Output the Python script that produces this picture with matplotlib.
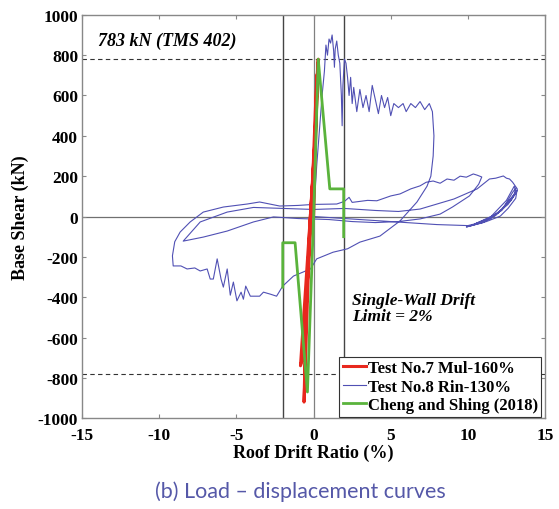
import numpy as np
import matplotlib.pyplot as plt

plt.rcParams['axes.unicode_minus'] = False

# Test No.8 Rin-130% (blue hysteresis)
rin_x = [0.0, 0.2, 0.4, 0.55, 0.7, 0.8, 0.9, 1.0, 1.1, 1.2, 1.3, 1.35, 1.4, 1.5, 1.6, 1.7,
         1.8, 1.85, 1.9, 2.0, 2.1, 2.2, 2.3, 2.4, 2.5, 2.6, 2.8, 3.0, 3.2, 3.4, 3.6, 3.8,
         4.0, 4.2, 4.4, 4.6, 4.8, 5.0, 5.2, 5.5, 5.8, 6.0, 6.3, 6.6, 6.9, 7.2, 7.5, 7.7,
         7.8, 7.75, 7.6, 7.35, 6.7, 5.6, 4.3, 3.0, 2.2, 1.26, 0.2, -0.2, -1.3, -2.0,
         -2.4, -2.8, -3.25, -3.5, -4.1, -4.4, -4.55, -4.7, -4.97, -5.2, -5.4, -5.6, -5.85,
         -6.0, -6.25, -6.5, -6.7, -6.9, -7.35, -7.7, -8.2, -8.6, -9.1,
         -9.15, -9.0, -8.65, -8.0, -7.15, -5.85, -4.3, -3.5, -2.2, -1.0, 0.0, 1.5, 2.0,
         2.3, 2.5, 3.5, 4.1, 5.0, 5.6, 6.3, 6.9, 7.3, 7.75, 8.2, 8.65, 9.1, 9.5, 9.9,
         10.35, 10.6, 10.9,
         10.7, 10.1, 9.0, 8.2, 6.9, 5.5, 4.0, 2.5, 1.0, -1.0, -2.6, -3.9, -5.6, -7.15, -8.45,
         -7.35, -5.6, -3.9, -2.0, 0.0, 2.0, 4.0, 5.5, 6.9, 9.1, 10.6, 11.4, 11.8, 12.3,
         12.5, 12.7, 12.9, 13.2, 13.1, 12.6, 12.1, 11.2, 9.9,
         11.0, 12.3, 13.0, 13.1, 12.9, 12.2, 11.0, 10.2, 11.5, 12.6, 13.15, 13.0, 12.5,
         11.5, 10.5, 11.8, 12.8, 13.2, 12.9, 12.0, 10.8, 10.0, 8.0, 6.0, 4.0, 2.0, 0.0]
rin_y = [0, 250, 450, 600, 720, 850, 800, 880, 860, 900, 820, 740, 830, 870, 800, 760,
         600, 450, 650, 780, 760, 690, 600, 690, 560, 640, 520, 630, 540, 600, 520, 650,
         580, 510, 600, 540, 590, 500, 560, 540, 560, 520, 560, 540, 570, 530, 560, 520,
         400, 300, 200, 150, 72, -22, -97, -127, -160, -177, -210, -260, -295, -345,
         -395, -385, -375, -395, -395, -345, -410, -375, -418, -325, -390, -260, -350,
         -310, -210, -310, -310, -260, -270, -255, -260, -245, -245,
         -195, -125, -77, -27, 22, 47, 62, 72, 52, 55, 60, 62, 75,
         95, 70, 80, 78, 102, 112, 137, 152, 170, 176, 165, 186, 180, 200, 195,
         211, 205, 196,
         160, 102, 47, 12, -12, -25, -30, -25, -15, -10, -2, -27, -72, -102, -122,
         -27, 22, 45, 40, 35, 40, 30, 25, 37, 87, 137, 186, 190, 201,
         190, 186, 170, 137, 90, 40, 2, -25, -52,
         -30, 40, 110, 140, 120, 30, -25, -45, -10, 60, 120, 150, 80,
         0, -35, 5, 80, 130, 100, 20, -30, -45, -40, -30, -20, -10, 0]

# Test No.7 Mul-160% (red)
mul_x = [0.0, 0.1, 0.25, 0.3, 0.15, -0.2, -0.45, -0.7, -0.85, -0.6, -0.3, 0.05, 0.2, 0.28,
         0.1, -0.25, -0.5, -0.62, -0.5, -0.35, -0.1, 0.15, 0.22]
mul_y = [0, 300, 700, 780, 450, 0, -400, -700, -740, -450, -100, 300, 650, 760,
         400, -50, -500, -920, -650, -300, 100, 600, 700]

# Cheng and Shing (2018) (green)
cs_x = [-2.0, -2.0, -1.2, -0.4, 0.0, 0.3, 1.05, 1.95, 1.95]
cs_y = [-350, -130, -130, -870, 0, 780, 137, 137, -100]

tms_limit = 783
drift_limit = 2
xticks = [-15, -10, -5, 0, 5, 10, 15]
yticks = [-1000, -800, -600, -400, -200, 0, 200, 400, 600, 800, 1000]

serif = 'Liberation Serif'

fig = plt.figure(figsize=(5.59, 5.10), dpi=100)
ax = fig.add_axes([0.147, 0.178, 0.828, 0.791])

ax.axhline(0, color='#707070', lw=0.9, zorder=1)
ax.axhline(tms_limit, color='#333333', lw=0.8, ls=(0, (4, 3)), zorder=1)
ax.axhline(-tms_limit, color='#333333', lw=0.8, ls=(0, (4, 3)), zorder=1)
ax.axvline(-drift_limit, color='#444444', lw=1.0, zorder=1)
ax.axvline(drift_limit, color='#444444', lw=1.0, zorder=1)
ax.axvline(0, color='#808080', lw=0.9, zorder=1)

ax.plot(rin_x, rin_y, color='#5050b4', lw=0.8, zorder=3, label='Test No.8 Rin-130%')
ax.plot(mul_x, mul_y, color='#e8281e', lw=2.2, zorder=4, label='Test No.7 Mul-160%')
ax.plot(cs_x, cs_y, color='#5ab33c', lw=2.0, zorder=5, label='Cheng and Shing (2018)')

ax.set_xlim(-15, 15)
ax.set_ylim(-1000, 1000)
ax.set_xticks(xticks)
ax.set_yticks(yticks)
ax.tick_params(direction='in', top=True, right=True, length=3, color='#888888',
               labelsize=12.5)
ax.tick_params(axis='x', pad=6)
ax.tick_params(axis='y', pad=3)
for lab in ax.get_xticklabels() + ax.get_yticklabels():
    lab.set_fontfamily(serif)
    lab.set_fontweight('bold')
for s in ax.spines.values():
    s.set_color('#888888')
    s.set_linewidth(1.0)

ax.set_xlabel('Roof Drift Ratio (%)', fontsize=13, fontweight='bold', family=serif, labelpad=1)
ax.set_ylabel('Base Shear (kN)', fontsize=13, fontweight='bold', family=serif, labelpad=6)

ax.text(-14.0, 871, '783 kN (TMS 402)', fontsize=13, fontweight='bold', style='italic',
        family=serif, va='center', ha='left')
ax.text(2.5, -455, 'Single-Wall Drift\nLimit = 2%', fontsize=12.5, fontweight='bold',
        style='italic', family=serif, va='center', ha='left', linespacing=1.0)

h, l = ax.get_legend_handles_labels()
order = [1, 0, 2]
leg = ax.legend([h[i] for i in order], [l[i] for i in order], loc='lower right',
                bbox_to_anchor=(0.995, 0.0), prop={'family': serif, 'weight': 'bold', 'size': 12},
                handlelength=1.4, handletextpad=0.1, labelspacing=0.15, borderpad=0.2,
                borderaxespad=0.1, fancybox=False, framealpha=1, edgecolor='#333333')
leg.get_frame().set_linewidth(0.8)

fig.text(0.537, 0.036, '(b) Load \u2013 displacement curves', fontsize=15.5, color='#5558a8',
         family='Lato', ha='center', va='center')

fig.savefig('out.png', dpi=100)
